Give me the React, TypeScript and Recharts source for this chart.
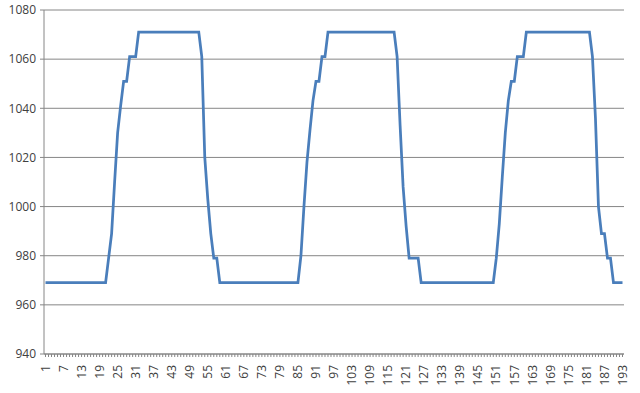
import { LineChart, Line, XAxis, YAxis, CartesianGrid } from "recharts";

// sample values, one per category (1..193)
const values: number[] = [
  969, 969, 969, 969, 969, 969, 969, 969, 969, 969,
  969, 969, 969, 969, 969, 969, 969, 969, 969, 969,
  969, 979, 989, 1010, 1030, 1041, 1051, 1051, 1061, 1061,
  1061, 1071, 1071, 1071, 1071, 1071, 1071, 1071, 1071, 1071,
  1071, 1071, 1071, 1071, 1071, 1071, 1071, 1071, 1071, 1071,
  1071, 1071, 1061, 1020, 1003, 989, 979, 979, 969, 969,
  969, 969, 969, 969, 969, 969, 969, 969, 969, 969,
  969, 969, 969, 969, 969, 969, 969, 969, 969, 969,
  969, 969, 969, 969, 969, 980, 1000, 1018, 1031, 1043,
  1051, 1051, 1061, 1061, 1071, 1071, 1071, 1071, 1071, 1071,
  1071, 1071, 1071, 1071, 1071, 1071, 1071, 1071, 1071, 1071,
  1071, 1071, 1071, 1071, 1071, 1071, 1071, 1061, 1033, 1008,
  992, 979, 979, 979, 979, 969, 969, 969, 969, 969,
  969, 969, 969, 969, 969, 969, 969, 969, 969, 969,
  969, 969, 969, 969, 969, 969, 969, 969, 969, 969,
  979, 993, 1012, 1030, 1043, 1051, 1051, 1061, 1061, 1061,
  1071, 1071, 1071, 1071, 1071, 1071, 1071, 1071, 1071, 1071,
  1071, 1071, 1071, 1071, 1071, 1071, 1071, 1071, 1071, 1071,
  1071, 1071, 1061, 1036, 1000, 989, 989, 979, 979, 969,
  969, 969, 969,
];

// category labels are just the running index
const categories: string[] = values.map((_, i) => String(i + 1));

const yTicks = [940, 960, 980, 1000, 1020, 1040, 1060, 1080];
const labelEvery = 6;

const data = categories.map((label, i) => ({ label, value: values[i] }));

const FONT = "'Open Sans', sans-serif";
const AXIS = "#868686";

const XTick = (props: any) => {
  const { x, y, index, payload } = props;
  if (index % labelEvery !== 0) return null;
  return (
    <text
      transform={`translate(${x},${y + 6}) rotate(-90)`}
      textAnchor="end"
      dy="0.35em"
      fontFamily={FONT}
      fontSize={12}
      fill="#404040"
    >
      {payload.value}
    </text>
  );
};

export default function App() {
  return (
    <div style={{ position: "absolute", left: 0, top: 0, background: "#fff" }}>
      <LineChart
        width={640}
        height={393}
        data={data}
        margin={{ top: 10, right: 16, bottom: 5, left: 0 }}
      >
        <CartesianGrid vertical={false} stroke={AXIS} strokeWidth={1} />
        <XAxis
          dataKey="label"
          interval={0}
          tickSize={3}
          tick={<XTick />}
          height={34}
          padding={{ left: 1.5, right: 1.5 }}
          axisLine={{ stroke: AXIS }}
          tickLine={{ stroke: AXIS }}
        />
        <YAxis
          domain={[940, 1080]}
          ticks={yTicks}
          width={44}
          tickSize={4}
          tickMargin={4}
          axisLine={{ stroke: AXIS }}
          tickLine={{ stroke: AXIS }}
          tick={{ fontFamily: FONT, fontSize: 12, fill: "#404040" }}
        />
        <Line
          type="linear"
          dataKey="value"
          stroke="#4a7ebb"
          strokeWidth={2.75}
          dot={false}
          isAnimationActive={false}
        />
      </LineChart>
    </div>
  );
}
